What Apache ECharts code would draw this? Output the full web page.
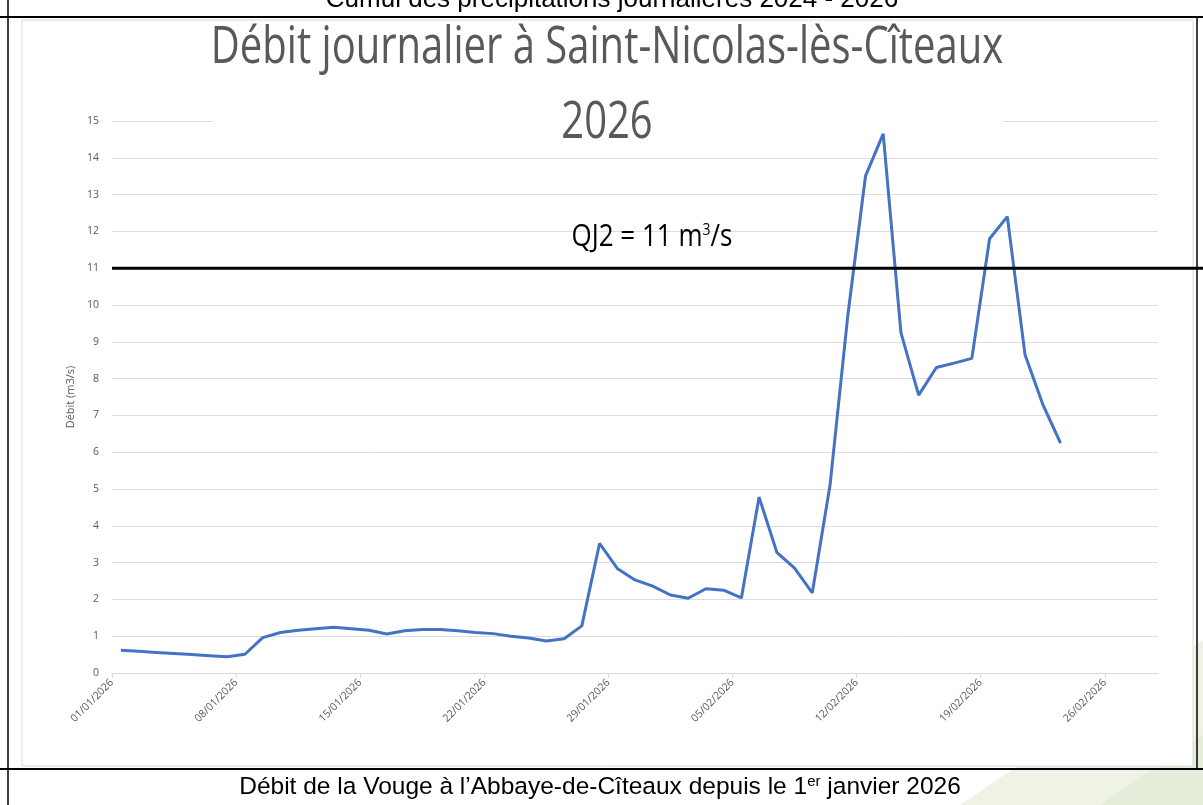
<!DOCTYPE html>
<html>
<head>
<meta charset="utf-8">
<script src="https://cdn.jsdelivr.net/npm/echarts@6/dist/echarts.min.js"></script>
<style>
html, body { margin: 0; padding: 0; background: #fff; }
#chart { width: 1203px; height: 805px; }
</style>
</head>
<body>
<div id="chart"></div>
<script>
// débit journalier de la Vouge (m3/s), un point par jour depuis le 01/01/2026
const debit = [
  0.62, 0.59, 0.56, 0.53, 0.50, 0.47, 0.44, 0.51, 0.96, 1.10,
  1.16, 1.20, 1.24, 1.20, 1.16, 1.06, 1.15, 1.18, 1.18, 1.15,
  1.10, 1.07, 1.00, 0.95, 0.87, 0.93, 1.28, 3.52, 2.84, 2.53,
  2.36, 2.12, 2.03, 2.29, 2.25, 2.04, 4.78, 3.28, 2.85, 2.18,
  5.10, 9.70, 13.50, 14.65, 9.25, 7.55, 8.30, 8.42, 8.55, 11.80,
  12.40, 8.65, 7.30, 6.25
];
// graduations de l'axe des dates (en jours depuis le 01/01/2026)
const tickJours = [0, 7, 14, 21, 28, 35, 42, 49, 56];
const tickLabels = ['01/01/2026', '08/01/2026', '15/01/2026', '22/01/2026', '29/01/2026',
  '05/02/2026', '12/02/2026', '19/02/2026', '26/02/2026'];
const nbJoursAxe = 59; // janvier + février
const seuilQJ2 = 11;

const titre1 = 'Débit journalier à Saint-Nicolas-lès-Cîteaux';
const titre2 = '2026';
const entete = 'Cumul des précipitations journalières 2024 - 2026';
const legende = 'Débit de la Vouge à l\u2019Abbaye-de-Cîteaux depuis le 1{sup|er} janvier 2026';

let myChart = echarts.init(document.getElementById('chart'));

let option = {
  animation: false,
  backgroundColor: '#fff',
  grid: { left: 112, right: 45, top: 121, bottom: 132 },
  xAxis: {
    type: 'value',
    min: 0,
    max: nbJoursAxe,
    interval: 7,
    splitLine: { show: false },
    axisLine: { show: true, onZero: false, lineStyle: { color: '#d9d9d9', width: 1 } },
    axisTick: { show: true, length: 5, lineStyle: { color: '#d9d9d9' }, customValues: tickJours },
    axisLabel: {
      rotate: 45,
      margin: 8,
      color: '#595959',
      fontSize: 10.5,
      fontFamily: 'Open Sans',
      customValues: tickJours,
      formatter: (v) => tickLabels[tickJours.indexOf(v)] || ''
    }
  },
  yAxis: {
    type: 'value',
    min: 0,
    max: 15,
    interval: 1,
    name: 'Débit (m3/s)',
    nameLocation: 'middle',
    nameGap: 33,
    nameTextStyle: { color: '#595959', fontSize: 11, fontFamily: 'Open Sans' },
    axisLine: { show: false },
    axisTick: { show: false },
    axisLabel: { color: '#595959', fontSize: 10.5, margin: 13, fontFamily: 'Open Sans' },
    splitLine: { lineStyle: { color: '#dedede', width: 1 } }
  },
  series: [
    {
      name: 'Débit',
      type: 'line',
      // chaque jour est centré entre deux graduations
      data: debit.map((v, i) => [i + 0.5, v]),
      showSymbol: false,
      lineStyle: { color: '#4472C4', width: 3 },
      z: 3
    }
  ]
};

myChart.setOption(option);

// seuil QJ2 : trait noir qui dépasse à droite du graphique
let ySeuil = myChart.convertToPixel({ yAxisIndex: 0 }, seuilQJ2);
let xDebut = myChart.convertToPixel({ xAxisIndex: 0 }, 0);

myChart.setOption({
  graphic: [
    // fond vert pâle en bas à droite
    { type: 'polygon', z: -20, shape: { points: [[960, 805], [1203, 640], [1203, 805]] }, style: { fill: '#eef3e6' } },
    { type: 'polygon', z: -19, shape: { points: [[1100, 805], [1203, 735], [1203, 805]] }, style: { fill: '#e4edd9' } },
    // cadre de l'image du graphique
    { type: 'rect', z: -10, shape: { x: 22, y: 20, width: 1171, height: 746 }, style: { fill: '#fff', stroke: '#dcdcdc', lineWidth: 1 } },
    // bordures du tableau
    { type: 'line', z: 50, shape: { x1: 0, y1: 17, x2: 1203, y2: 17 }, style: { stroke: '#000', lineWidth: 2 } },
    { type: 'line', z: 50, shape: { x1: 0, y1: 769, x2: 1203, y2: 769 }, style: { stroke: '#000', lineWidth: 2 } },
    { type: 'line', z: 50, shape: { x1: 8, y1: 0, x2: 8, y2: 805 }, style: { stroke: '#000', lineWidth: 1.5 } },
    { type: 'line', z: 50, shape: { x1: 1197, y1: 17, x2: 1197, y2: 769 }, style: { stroke: '#000', lineWidth: 1.5 } },
    // en-tête coupé
    {
      type: 'text', z: 50, x: 612, y: 0,
      style: { text: entete, font: '26px "Liberation Sans"', fill: '#000', align: 'center', verticalAlign: 'middle' }
    },
    // légende sous le graphique
    {
      type: 'text', z: 50, x: 600, y: 787,
      style: {
        text: legende, font: '24.5px "Liberation Sans"', fill: '#000', align: 'center', verticalAlign: 'middle',
        rich: { sup: { fontSize: 15, fontFamily: 'Liberation Sans', verticalAlign: 'top', padding: [0, 0, 11, 0] } }
      }
    },
    // titre avec fond blanc qui masque la grille
    { type: 'rect', z: 40, shape: { x: 213, y: 22, width: 790, height: 104 }, style: { fill: '#fff' } },
    {
      type: 'text', z: 41, x: 607, y: 48, scaleY: 1.3,
      style: { text: titre1, font: '40px "Open Sans"', fill: '#595959', align: 'center', verticalAlign: 'middle' }
    },
    {
      type: 'text', z: 41, x: 607, y: 123, scaleY: 1.3,
      style: { text: titre2, font: '40px "Open Sans"', fill: '#595959', align: 'center', verticalAlign: 'middle' }
    },
    // trait QJ2
    { type: 'line', z: 45, shape: { x1: xDebut, y1: ySeuil, x2: 1203, y2: ySeuil }, style: { stroke: '#000', lineWidth: 3 } },
    {
      type: 'text', z: 45, x: 652, y: ySeuil - 31, scaleY: 1.2,
      style: {
        text: 'QJ2 = 11 m{sup|3}/s', font: '26px "Open Sans"', fill: '#000', align: 'center', verticalAlign: 'middle',
        rich: { sup: { fontSize: 14, fontFamily: 'Open Sans', verticalAlign: 'top', padding: [0, 0, 10, 0] } }
      }
    }
  ]
});
</script>
</body>
</html>
